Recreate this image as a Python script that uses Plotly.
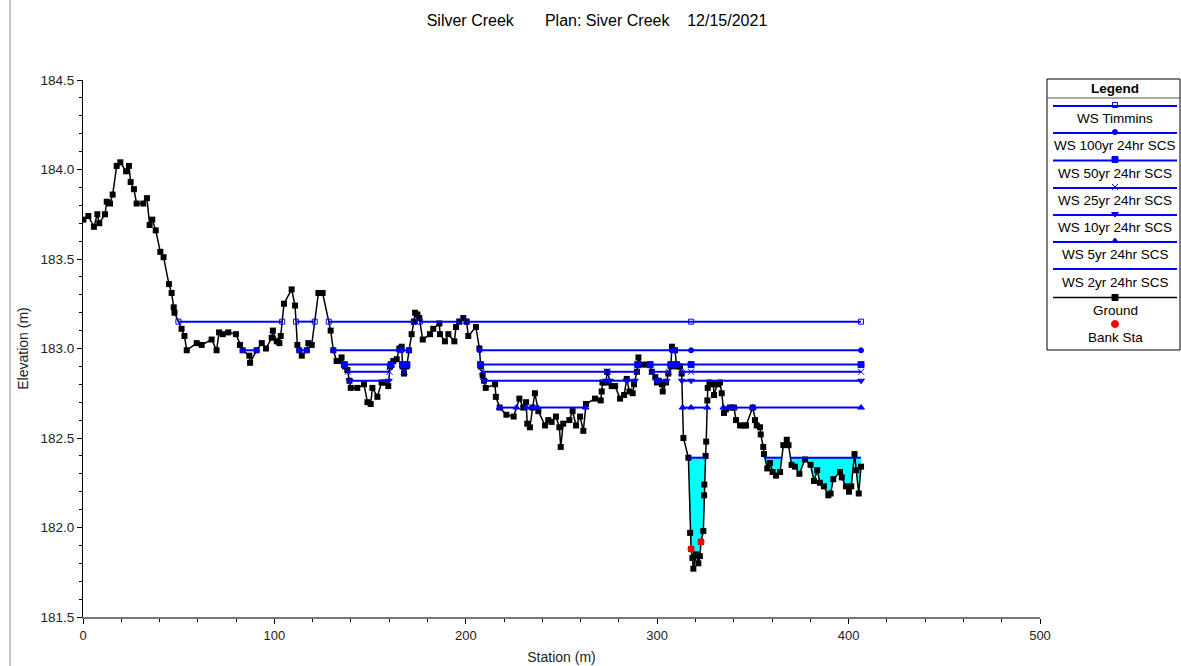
import plotly.graph_objects as go

W, H = 1181, 666

# ---------------- data ----------------
ground_sta = [0.2, 2.8, 5.7, 7.5, 8.5, 11.5, 12.4, 14.1, 15.5, 17.6, 19.5, 22.5, 24.0, 24.9, 26.6,
              28.0, 31.5, 33.4, 34.8, 36.2, 38.0, 40.4, 42.1, 44.9, 46.3, 47.4, 47.8, 51.5, 53.0,
              54.2, 59.4, 62.0, 67.2, 69.8, 71.1, 73.0, 75.9, 79.9, 82.0, 83.4, 86.9, 87.3, 90.7,
              93.4, 95.6, 98.6, 99.2, 101.2, 102.6, 103.3, 105.0, 109.0, 110.8, 112.0, 113.0,
              114.3, 116.9, 117.7, 119.5, 123.0, 125.2, 129.4, 130.8, 132.5, 134.3, 135.1, 136.9,
              138.1, 139.2, 139.9, 143.3, 146.8, 148.6, 150.3, 151.2, 153.8, 156.0, 157.8, 159.5,
              160.4, 162.1, 163.9, 165.3, 166.5, 167.0, 167.7, 169.1, 170.3, 171.7, 172.9, 173.5,
              174.7, 175.7, 177.5, 181.3, 183.0, 186.2, 186.5, 189.1, 190.9, 194.0, 194.9, 196.6,
              198.7, 200.4, 201.3, 205.3, 207.1, 207.8, 208.8, 209.5, 210.4, 215.3, 215.7, 217.7,
              221.2, 225.0, 228.0, 230.0, 231.5, 232.1, 233.5, 234.9, 236.1, 237.9, 241.4, 243.1,
              244.8, 247.1, 248.9, 249.6, 250.9, 254.1, 255.8, 257.6, 259.7, 261.4, 262.8, 267.5,
              270.5, 271.0, 271.4, 273.2, 273.9, 276.2, 278.0, 280.6, 282.7, 284.1, 285.5, 287.2,
              287.9, 289.4, 290.2, 291.9, 294.6, 296.3, 297.2, 299.0, 299.9, 300.7, 302.5, 302.9,
              304.6, 305.8, 307.1, 307.7, 309.3, 310.2, 311.9, 312.8, 313.7, 316.3, 317.2, 317.7,
              318.4, 318.9, 320.3, 321.5, 322.3, 322.9, 324.1, 324.5, 324.6, 325.3, 325.6, 326.2,
              326.4, 327.3, 329.3, 329.7, 331.4, 332.8, 333.7, 334.9, 335.9, 338.0, 340.1, 341.2,
              343.3, 345.4, 346.4, 349.9, 351.1, 352.0, 353.7, 354.1, 355.4, 355.8, 357.5, 358.9,
              360.3, 362.1, 364.2, 365.9, 367.7, 368.6, 370.2, 372.0, 374.3, 377.2, 380.1, 381.9,
              383.6, 385.0, 387.1, 389.4, 390.6, 392.0, 395.5, 396.4, 398.6, 400.2, 401.4, 403.1,
              404.0, 405.3, 406.5]
ground_elev = [183.72, 183.74, 183.68, 183.75, 183.70, 183.75, 183.82, 183.81, 183.86, 184.02, 184.04,
               183.99, 184.02, 183.93, 183.89, 183.81, 183.81, 183.84, 183.69, 183.72, 183.66, 183.54,
               183.51, 183.36, 183.31, 183.23, 183.20, 183.11, 183.07, 182.99, 183.03, 183.02, 183.05,
               182.99, 183.09, 183.08, 183.09, 183.08, 183.02, 182.99, 182.96, 182.92, 182.99, 183.03,
               183.00, 183.06, 183.10, 183.04, 183.03, 183.07, 183.25, 183.33, 183.24, 183.02, 182.99,
               182.96, 182.99, 183.03, 183.02, 183.31, 183.31, 183.10, 182.99, 182.93, 182.93, 182.95,
               182.90, 182.88, 182.82, 182.78, 182.78, 182.80, 182.70, 182.69, 182.78, 182.73, 182.81,
               182.81, 182.79, 182.90, 182.93, 182.94, 183.00, 183.01, 182.90, 182.86, 182.90, 182.99,
               183.08, 183.15, 183.20, 183.19, 183.17, 183.05, 183.08, 183.11, 183.14, 183.08, 183.04,
               183.08, 183.04, 183.12, 183.15, 183.17, 183.15, 183.07, 183.12, 183.00, 182.90, 182.85,
               182.82, 182.78, 182.80, 182.73, 182.67, 182.63, 182.62, 182.72, 182.67, 182.70, 182.58,
               182.56, 182.67, 182.75, 182.65, 182.57, 182.60, 182.59, 182.62, 182.56, 182.45, 182.58,
               182.60, 182.65, 182.57, 182.62, 182.54, 182.69, 182.72, 182.71, 182.76, 182.81, 182.81,
               182.87, 182.79, 182.79, 182.72, 182.74, 182.83, 182.76, 182.75, 182.80, 182.87, 182.95,
               182.91, 182.91, 182.91, 182.87, 182.84, 182.81, 182.82, 182.80, 182.76, 182.81, 182.86,
               182.90, 183.01, 182.99, 182.90, 182.90, 182.86, 182.50, 182.39, 181.97, 181.88, 181.83,
               181.77, 181.85, 181.80, 181.84, 181.92, 181.98, 182.18, 182.24, 182.40, 182.48, 182.71,
               182.78, 182.81, 182.80, 182.74, 182.80, 182.81, 182.75, 182.64, 182.66, 182.67, 182.67,
               182.60, 182.57, 182.57, 182.57, 182.67, 182.60, 182.57, 182.56, 182.52, 182.45, 182.41,
               182.33, 182.36, 182.31, 182.29, 182.31, 182.46, 182.49, 182.46, 182.35, 182.34, 182.30,
               182.38, 182.35, 182.26, 182.32, 182.25, 182.23, 182.18, 182.19, 182.27, 182.31, 182.28,
               182.23, 182.20, 182.23, 182.41, 182.32, 182.19, 182.34]

bank_sta = [317.7, 322.9]

ws_names = ["WS Timmins", "WS 100yr 24hr SCS", "WS 50yr 24hr SCS", "WS 25yr 24hr SCS",
            "WS 10yr 24hr SCS", "WS 5yr 24hr SCS", "WS 2yr 24hr SCS"]
ws_elev = [183.15, 182.99, 182.91, 182.87, 182.82, 182.67, 182.39]

title_text = "Silver Creek\u00a0\u00a0\u00a0\u00a0\u00a0\u00a0\u00a0Plan: Siver Creek\u00a0\u00a0\u00a0\u00a012/15/2021"
x_title = "Station (m)"
y_title = "Elevation (m)"

# ---------------- styles ----------------
BLUE = "#0000FF"
FONT = "Arial, 'Liberation Sans', sans-serif"
ws_symbols = ["square-open", "circle", "square", "x-thin-open", "triangle-down", "triangle-up", None]
ws_sizes = [5, 5, 6, 6, 6, 6, 0]


def interp_ground(x):
    for i in range(len(ground_sta) - 1):
        x0, x1 = ground_sta[i], ground_sta[i + 1]
        if x0 <= x <= x1:
            if x1 == x0:
                return ground_elev[i]
            t = (x - x0) / (x1 - x0)
            return ground_elev[i] + t * (ground_elev[i + 1] - ground_elev[i])
    return None


def wet_segments(level):
    segs = []
    start = ground_sta[0] if ground_elev[0] < level else None
    for i in range(len(ground_sta) - 1):
        x0, y0 = ground_sta[i], ground_elev[i]
        x1, y1 = ground_sta[i + 1], ground_elev[i + 1]
        b0, b1 = y0 < level, y1 < level
        if b0 != b1:
            t = (level - y0) / (y1 - y0)
            xc = x0 + t * (x1 - x0)
            if b1:
                start = xc
            else:
                segs.append((start, xc))
                start = None
    if start is not None:
        segs.append((start, ground_sta[-1]))
    return segs


fig = go.Figure()

# water fill for the lowest profile
low = ws_elev[-1]
for a, b in wet_segments(low):
    inner = [(x, y) for x, y in zip(ground_sta, ground_elev) if a < x < b]
    px = [a, b] + [p[0] for p in reversed(inner)] + [a]
    py = [low, low] + [p[1] for p in reversed(inner)] + [low]
    fig.add_trace(go.Scatter(x=px, y=py, mode="lines", fill="toself", fillcolor="#00FFFF",
                             line=dict(width=0, color="#00FFFF"), showlegend=False,
                             hoverinfo="skip"))

# ground
fig.add_trace(go.Scatter(x=ground_sta, y=ground_elev, mode="lines+markers", name="Ground",
                         line=dict(color="black", width=1.5),
                         marker=dict(symbol="square", size=6, color="black"),
                         showlegend=False))

# water surfaces
for name, lev, sym, sz in zip(ws_names, ws_elev, ws_symbols, ws_sizes):
    segs = wet_segments(lev)
    lx, ly = [], []
    mx, my = [], []
    for a, b in segs:
        lx += [a, b, None]
        ly += [lev, lev, None]
        mx += [a, b]
        my += [lev, lev]
        if a < bank_sta[0] < b:
            mx.append(bank_sta[0])
            my.append(lev)
    fig.add_trace(go.Scatter(x=lx, y=ly, mode="lines", name=name,
                             line=dict(color=BLUE, width=2), showlegend=False))
    if sym:
        fig.add_trace(go.Scatter(x=mx, y=my, mode="markers", name=name,
                                 marker=dict(symbol=sym, size=sz, color=BLUE,
                                             line=dict(color=BLUE, width=1)),
                                 showlegend=False))

# bank stations
fig.add_trace(go.Scatter(x=bank_sta, y=[interp_ground(s) for s in bank_sta], mode="markers",
                         name="Bank Sta", marker=dict(symbol="circle", size=7, color="#FF0000"),
                         showlegend=False))

# ---------------- custom legend (pixel overlay axes) ----------------
leg_items = ws_names + ["Ground", "Bank Sta"]
leg_line_y = [106, 133, 160.5, 188, 215, 242, 269, 297.5, 324]
leg_text_y = [118.5, 145.5, 173, 200.5, 227.5, 254.5, 282.5, 310, 337]
leg_sym = ws_symbols + ["square", "circle"]
leg_col = [BLUE] * 7 + ["black", "#FF0000"]
leg_size = ws_sizes + [6, 7]
LX0, LX1, LXC = 1053, 1177, 1115

shapes = []
annotations = []
shapes.append(dict(type="rect", xref="x2", yref="y2", x0=1047, x1=1180, y0=79, y1=350,
                   line=dict(color="black", width=1), fillcolor="white", layer="below"))
shapes.append(dict(type="line", xref="x2", yref="y2", x0=1047, x1=1180, y0=98, y1=98,
                   line=dict(color="#555555", width=1)))
shapes.append(dict(type="line", xref="x2", yref="y2", x0=10, x1=10, y0=0, y1=H,
                   line=dict(color="#888888", width=1)))
annotations.append(dict(xref="x2", yref="y2", x=LXC, y=88, text="<b>Legend</b>", showarrow=False,
                        font=dict(family=FONT, size=13.5, color="black")))
for i, item in enumerate(leg_items):
    if item != "Bank Sta":
        shapes.append(dict(type="line", xref="x2", yref="y2", x0=LX0, x1=LX1,
                           y0=leg_line_y[i], y1=leg_line_y[i],
                           line=dict(color=leg_col[i], width=2 if i < 7 else 1.5)))
    annotations.append(dict(xref="x2", yref="y2", x=LXC, y=leg_text_y[i], text=item,
                            showarrow=False, font=dict(family=FONT, size=13.5, color="black")))
    if leg_sym[i]:
        fig.add_trace(go.Scatter(x=[LXC], y=[leg_line_y[i] - (1 if i < 7 else 0)], mode="markers",
                                 xaxis="x2", yaxis="y2", showlegend=False, hoverinfo="skip",
                                 marker=dict(symbol=leg_sym[i], size=leg_size[i], color=leg_col[i],
                                             line=dict(color=leg_col[i], width=1))))

fig.update_layout(
    autosize=True,
    margin=dict(l=0, r=0, t=0, b=0, autoexpand=False),
    paper_bgcolor="white", plot_bgcolor="rgba(0,0,0,0)",
    font=dict(family=FONT, size=13, color="#222222"),
    showlegend=False,
    title=dict(text=title_text, x=597 / W, y=1 - 20 / H, xanchor="center", yanchor="middle",
               font=dict(family=FONT, size=16, color="black")),
    xaxis=dict(domain=[83 / W, 1040 / W], range=[0, 500], anchor="y",
               showline=True, linecolor="#777777", linewidth=2, mirror=False,
               ticks="outside", ticklen=5, tickcolor="black", tick0=0, dtick=100,
               minor=dict(ticks="outside", ticklen=3, tickcolor="black", dtick=20, showgrid=False),
               showgrid=False, zeroline=False, automargin=False,
               tickfont=dict(family=FONT, size=13, color="#222222"),
               title=dict(text=x_title, standoff=11, font=dict(family=FONT, size=14, color="#222222"))),
    yaxis=dict(domain=[(H - 617) / H, (H - 80) / H], range=[181.5, 184.5], anchor="x",
               showline=True, linecolor="black", linewidth=1,
               ticks="outside", ticklen=5, tickcolor="black", tick0=181.5, dtick=0.5,
               tickformat=".1f", automargin=False,
               minor=dict(ticks="outside", ticklen=3, tickcolor="black", dtick=0.1, showgrid=False),
               showgrid=False, zeroline=False,
               tickfont=dict(family=FONT, size=13.5, color="#222222"),
               title=dict(text=y_title, standoff=8, font=dict(family=FONT, size=14, color="#222222"))),
    xaxis2=dict(domain=[0, 1], range=[0, W], anchor="y2", visible=False, fixedrange=True),
    yaxis2=dict(domain=[0, 1], range=[H, 0], anchor="x2", visible=False, fixedrange=True),
    shapes=shapes,
    annotations=annotations,
)

post = (
    "document.documentElement.style.margin='0';"
    "document.documentElement.style.overflow='hidden';"
    "document.body.style.margin='0';"
    "document.body.style.padding='0';"
    "document.body.style.overflow='hidden';"
    "var gd=document.getElementsByClassName('plotly-graph-div')[0];"
    "gd.style.width='100vw';gd.style.height='100vh';"
    "Plotly.Plots.resize(gd);"
)
fig.write_html("out.html", default_width="100vw", default_height="100vh",
               config={"displayModeBar": False, "responsive": True}, post_script=post)
